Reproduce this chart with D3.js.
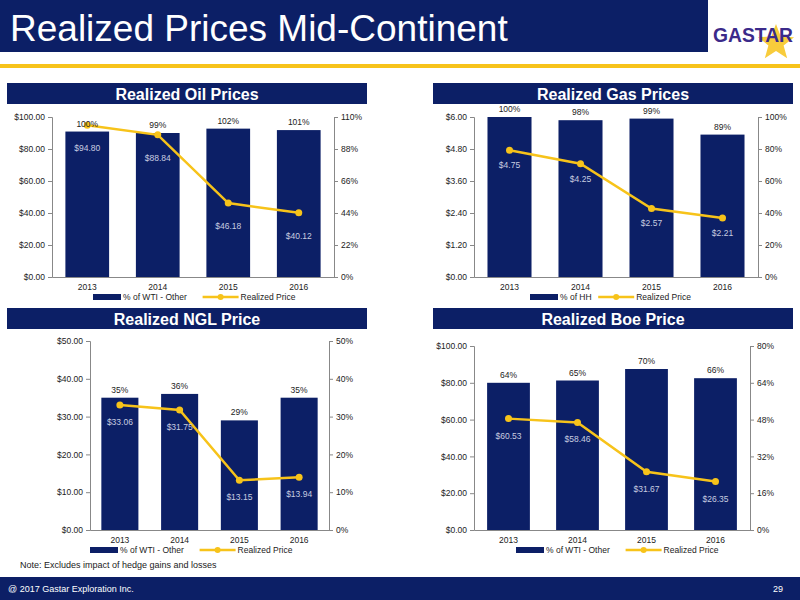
<!DOCTYPE html><html><head><meta charset="utf-8"><script src="https://cdn.jsdelivr.net/npm/d3@7"></script>
<style>body{margin:0}svg{font-family:"Liberation Sans",Arial,sans-serif}</style></head><body><svg id="s" width="800" height="600"></svg>
<script>
const years=["2013","2014","2015","2016"];
const oilPct=[100,99,102,101], oilPrice=[94.80,88.84,46.18,40.12];
const gasPct=[100,98,99,89], gasPrice=[4.75,4.25,2.57,2.21];
const nglPct=[35,36,29,35], nglPrice=[33.06,31.75,13.15,13.94];
const boePct=[64,65,70,66], boePrice=[60.53,58.46,31.67,26.35];
const oilLeftTicks=[0,20,40,60,80,100], oilRightTicks=[0,22,44,66,88,110];
const gasLeftTicks=[0,1.2,2.4,3.6,4.8,6], gasRightTicks=[0,20,40,60,80,100];
const nglLeftTicks=[0,10,20,30,40,50], nglRightTicks=[0,10,20,30,40,50];
const boeLeftTicks=[0,20,40,60,80,100], boeRightTicks=[0,16,32,48,64,80];
const NAVY="#0c1f66", GOLD="#f7c31a";
const svg=d3.select("#s");
svg.append("rect").attr("width",800).attr("height",600).attr("fill","#fff");
svg.append("rect").attr("width",708).attr("height",52).attr("fill",NAVY);
svg.append("text").attr("x",10).attr("y",41).attr("fill","#fff").attr("font-size",37).text("Realized Prices Mid-Continent");
svg.append("rect").attr("x",0).attr("y",64).attr("width",800).attr("height",4).attr("fill",GOLD);
const star=d3.range(10).map(i=>{const r=i%2?8:19,a=-Math.PI/2+i*Math.PI/5;return [776+r*Math.cos(a),43+r*Math.sin(a)]});
svg.append("polygon").attr("points",star.map(p=>p.join(",")).join(" ")).attr("fill",GOLD).attr("opacity",0.85);
svg.append("text").attr("x",713).attr("y",42).attr("fill","#3b2a8a").attr("font-size",20).attr("font-weight","bold").attr("textLength",80).attr("lengthAdjust","spacingAndGlyphs").text("GASTAR");
svg.append("rect").attr("x",0).attr("y",577).attr("width",800).attr("height",23).attr("fill",NAVY);
svg.append("text").attr("x",8).attr("y",592).attr("fill","#fff").attr("font-size",9).text("@ 2017 Gastar Exploration Inc.");
svg.append("text").attr("x",783).attr("y",592).attr("fill","#fff").attr("font-size",9).attr("text-anchor","end").text("29");
svg.append("text").attr("x",20).attr("y",568).attr("fill","#222").attr("font-size",9).text("Note: Excludes impact of hedge gains and losses");

function chart(o){
  svg.append("rect").attr("x",o.tx).attr("y",o.ty).attr("width",360).attr("height",21).attr("fill",NAVY);
  svg.append("text").attr("x",o.tx+180).attr("y",o.ty+16.5).attr("text-anchor","middle").attr("fill","#fff").attr("font-size",16).attr("font-weight","bold").text(o.title);
  const x=d3.scaleBand().domain(years).range([o.x0,o.x1]).paddingInner(0.38).paddingOuter(0.19);
  const yl=d3.scaleLinear().domain([0,o.lt[o.lt.length-1]]).range([o.y1,o.y0]);
  const yr=d3.scaleLinear().domain([0,o.rt[o.rt.length-1]]).range([o.y1,o.y0]);
  const g=svg.append("g").attr("font-size",8.5).attr("fill","#222");
  g.selectAll(".b").data(o.pct).join("rect").attr("x",(d,i)=>x(years[i])).attr("width",x.bandwidth())
    .attr("y",d=>yr(d)).attr("height",d=>o.y1-yr(d)).attr("fill",NAVY);
  const ax=g.append("g").attr("transform",`translate(0,${o.y1})`).call(d3.axisBottom(x).tickSize(0).tickPadding(7));
  const al=g.append("g").attr("transform",`translate(${o.x0},0)`).call(d3.axisLeft(yl).tickValues(o.lt).tickSize(4).tickFormat(d=>"$"+d.toFixed(2)));
  const ar=g.append("g").attr("transform",`translate(${o.x1},0)`).call(d3.axisRight(yr).tickValues(o.rt).tickSize(4).tickFormat(d=>d+"%"));
  [ax,al,ar].forEach(a=>{a.selectAll("text").attr("font-size",8.5).attr("fill","#222").attr("font-family","Liberation Sans, Arial");a.selectAll("line,.domain").attr("stroke","#888")});
  const line=d3.line().x((d,i)=>x(years[i])+x.bandwidth()/2).y(d=>yl(d));
  g.append("path").attr("d",line(o.price)).attr("fill","none").attr("stroke",GOLD).attr("stroke-width",2.5);
  g.selectAll(".p").data(o.price).join("circle").attr("cx",(d,i)=>x(years[i])+x.bandwidth()/2).attr("cy",d=>yl(d)).attr("r",3.5).attr("fill",GOLD);
  g.selectAll(".pl").data(o.pct).join("text").attr("x",(d,i)=>x(years[i])+x.bandwidth()/2).attr("y",d=>yr(d)-5)
    .attr("text-anchor","middle").text(d=>d+"%");
  g.selectAll(".vl").data(o.price).join("text").attr("x",(d,i)=>x(years[i])+x.bandwidth()/2).attr("y",d=>yl(d)+o.vdy)
    .attr("text-anchor","middle").attr("fill","#c8cde0").text(d=>"$"+d.toFixed(2));
  const lx=o.lg, ly=o.y1+22;
  g.append("rect").attr("x",lx).attr("y",ly-5).attr("width",28).attr("height",6).attr("fill",NAVY);
  g.append("text").attr("x",lx+30).attr("y",ly+1).text(o.leg);
  const l2=lx+30+o.leg.length*4.6+6;
  g.append("line").attr("x1",l2).attr("x2",l2+36).attr("y1",ly-2).attr("y2",ly-2).attr("stroke",GOLD).attr("stroke-width",2.5);
  g.append("circle").attr("cx",l2+18).attr("cy",ly-2).attr("r",3).attr("fill",GOLD);
  g.append("text").attr("x",l2+38).attr("y",ly+1).text("Realized Price");
}
chart({title:"Realized Oil Prices",tx:7,ty:83,x0:52,x1:334,y0:117,y1:277,lt:oilLeftTicks,rt:oilRightTicks,pct:oilPct,price:oilPrice,leg:"% of WTI - Other",lg:93,vdy:26});
chart({title:"Realized Gas Prices",tx:433,ty:83,x0:474,x1:758,y0:117,y1:277,lt:gasLeftTicks,rt:gasRightTicks,pct:gasPct,price:gasPrice,leg:"% of HH",lg:530,vdy:18});
chart({title:"Realized NGL Price",tx:7,ty:308,x0:90,x1:329,y0:341,y1:530,lt:nglLeftTicks,rt:nglRightTicks,pct:nglPct,price:nglPrice,leg:"% of WTI - Other",lg:90,vdy:20});
chart({title:"Realized Boe Price",tx:433,ty:308,x0:474,x1:750,y0:346,y1:530,lt:boeLeftTicks,rt:boeRightTicks,pct:boePct,price:boePrice,leg:"% of WTI - Other",lg:516,vdy:20});
</script></body></html>
